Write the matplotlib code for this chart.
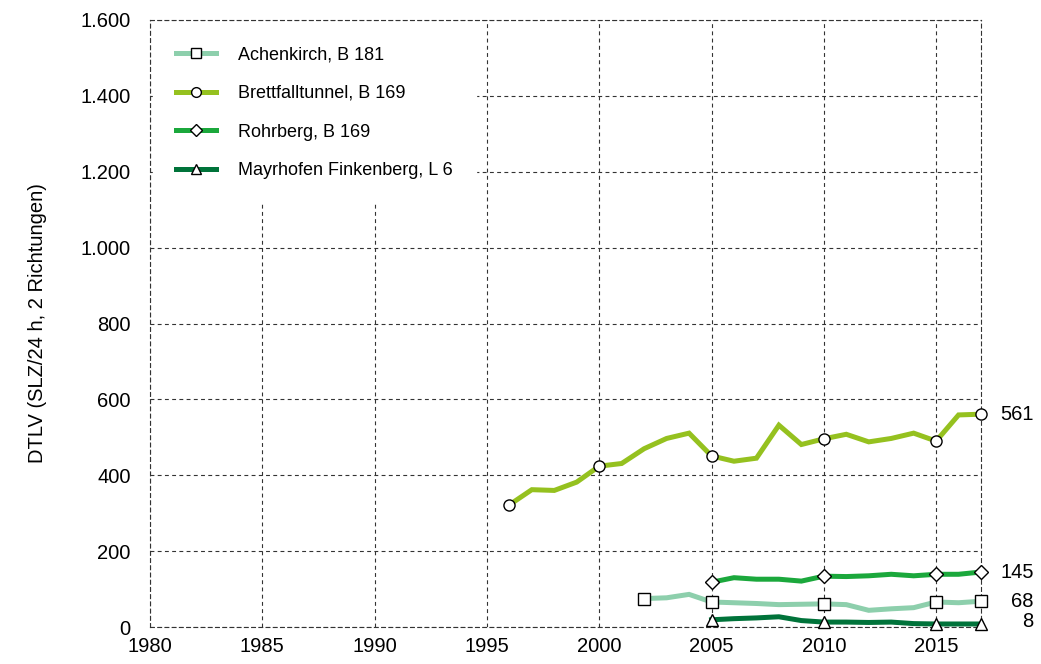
import matplotlib.pyplot as plt
from matplotlib.lines import Line2D
from matplotlib.ticker import FuncFormatter

plt.rcParams['font.family'] = ['Liberation Sans', 'DejaVu Sans']

# Jahresmittelwerte DTLV je Zählstelle
years_achenkirch = list(range(2002, 2018))
achenkirch = [75, 77, 86, 66, 64, 62, 59, 60, 61, 59, 44, 48, 51, 66, 64, 68]

years_brettfall = list(range(1996, 2018))
brettfall = [322, 362, 360, 382, 424, 431, 470, 497, 511, 451, 437, 445,
             532, 481, 496, 508, 488, 497, 511, 490, 559, 561]

years_rohrberg = list(range(2005, 2018))
rohrberg = [118, 130, 126, 126, 121, 134, 133, 135, 139, 135, 139, 139, 145]

years_mayrhofen = list(range(2005, 2018))
mayrhofen = [19, 22, 24, 27, 17, 13, 13, 12, 13, 9, 8, 8, 8]

labels = ["Achenkirch, B 181", "Brettfalltunnel, B 169",
          "Rohrberg, B 169", "Mayrhofen Finkenberg, L 6"]
colors = ["#8dcfac", "#95c11f", "#1ba83c", "#00733a"]
markers = ["s", "o", "D", "^"]
marker_years = [[2002, 2005, 2010, 2015, 2017],
                [1996, 2000, 2005, 2010, 2015, 2017],
                [2005, 2010, 2015, 2017],
                [2005, 2010, 2015, 2017]]

series = [(years_achenkirch, achenkirch), (years_brettfall, brettfall),
          (years_rohrberg, rohrberg), (years_mayrhofen, mayrhofen)]

fig = plt.figure(figsize=(10.41, 6.64), dpi=100)
ax = fig.add_axes([0.1441, 0.0557, 0.7983, 0.9142])

ax.set_xlim(1980, 2017)
ax.set_ylim(0, 1600)
ax.set_xticks(range(1980, 2016, 5))
ax.set_yticks(range(0, 1601, 200))
ax.yaxis.set_major_formatter(FuncFormatter(lambda v, p: f"{int(v):,}".replace(",", ".")))
ax.tick_params(length=0, labelsize=14.5)
ax.tick_params(axis="y", pad=14)
ax.tick_params(axis="x", pad=7)
ax.grid(True, color="#333333", linestyle=(0, (3.5, 3)), linewidth=0.8)
ax.set_axisbelow(True)
for sp in ax.spines.values():
    sp.set_linestyle((0, (3.5, 3)))
    sp.set_color("#333333")
    sp.set_linewidth(0.8)

ax.set_ylabel("DTLV (SLZ/24 h, 2 Richtungen)", fontsize=14.5, labelpad=24)

handles = []
for (yrs, vals), lab, col, mk, my in zip(series, labels, colors, markers, marker_years):
    idx = [yrs.index(y) for y in my]
    ms = 7 if mk == "D" else 8
    ax.plot(yrs, vals, color=col, linewidth=3.6, solid_joinstyle="miter",
            marker=mk, markevery=idx, markersize=ms, markerfacecolor="white",
            markeredgecolor="black", markeredgewidth=1.0, clip_on=False, zorder=3)
    handles.append(Line2D([], [], color=col, linewidth=3.6, marker=mk,
                          markersize=ms - 1, markerfacecolor="white",
                          markeredgecolor="black", markeredgewidth=1.0))

# Endwerte 2017 rechts neben der Kurve
for (yrs, vals), off in zip([series[1], series[2], series[0], series[3]],
                            [0, 0, 0, 1.5]):
    ax.annotate(f"{vals[-1]}", xy=(yrs[-1], vals[-1]), xytext=(38, off),
                textcoords="offset points", ha="right", va="center",
                fontsize=14.5, annotation_clip=False)

leg = ax.legend(handles, labels, loc="upper left", fontsize=13,
                handlelength=2.2, handletextpad=1.2, labelspacing=1.2,
                borderpad=1.3, borderaxespad=0.15, frameon=True, fancybox=False)
leg.get_frame().set_facecolor("white")
leg.get_frame().set_edgecolor("white")
leg.get_frame().set_alpha(1)

fig.savefig("out.png", dpi=100)
